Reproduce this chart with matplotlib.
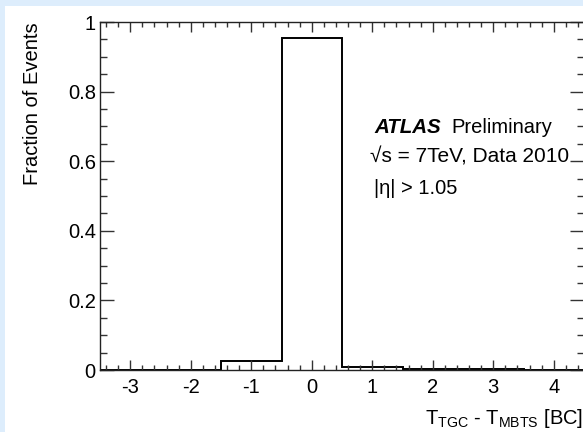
import matplotlib
matplotlib.use('Agg')
import matplotlib.pyplot as plt
from matplotlib.patches import Rectangle
from matplotlib.ticker import MultipleLocator, FormatStrFormatter

plt.rcParams['font.family'] = 'Liberation Sans'
plt.rcParams['mathtext.fontset'] = 'custom'
plt.rcParams['mathtext.rm'] = 'Liberation Sans'
plt.rcParams['mathtext.it'] = 'Liberation Sans:italic'
plt.rcParams['mathtext.bf'] = 'Liberation Sans:bold'
plt.rcParams['axes.unicode_minus'] = False

# TGC - MBTS timing difference, one bin per bunch crossing
bin_edges = [-3.5, -2.5, -1.5, -0.5, 0.5, 1.5, 2.5, 3.5, 4.5]
fractions = [0.0, 0.0, 0.027, 0.953, 0.0095, 0.004, 0.003, 0.0]
x_ticks = [-3, -2, -1, 0, 1, 2, 3, 4]
y_ticks = [0, 0.2, 0.4, 0.6, 0.8, 1.0]

W, H = 583, 432
fig = plt.figure(figsize=(W / 100, H / 100), dpi=100, facecolor='#ddedfc')
# white panel inside the light blue frame
fig.patches.append(Rectangle((5 / W, 0), 1, (H - 6) / H, transform=fig.transFigure,
                             facecolor='white', edgecolor='none', zorder=-10))

ax = fig.add_axes([100 / W, 62 / H, 484 / W, 348 / H])
ax.stairs(fractions, bin_edges, color='black', linewidth=1.4)

ax.set_xlim(bin_edges[0], bin_edges[-1])
ax.set_ylim(0, 1)
ax.set_xticks(x_ticks)
ax.set_yticks(y_ticks)
ax.xaxis.set_minor_locator(MultipleLocator(0.2))
ax.yaxis.set_minor_locator(MultipleLocator(0.05))
ax.yaxis.set_major_formatter(FormatStrFormatter('%g'))

ax.tick_params(which='both', direction='in', top=True, right=True,
               labelsize=14.5, color='#333333', width=1)
ax.tick_params(axis='x', which='major', length=7.2, pad=6)
ax.tick_params(axis='x', which='minor', length=3.6)
ax.tick_params(axis='y', which='major', length=10, pad=3)
ax.tick_params(axis='y', which='minor', length=5)
for sp in ax.spines.values():
    sp.set_linewidth(1)
    sp.set_color('#222222')

ax.set_ylabel('Fraction of Events', fontsize=14.5, loc='top')
ax.yaxis.set_label_coords(-0.12, 1.0)
ax.set_xlabel(r'T$_{\mathrm{TGC}}$ - T$_{\mathrm{MBTS}}$ [BC]', fontsize=14.5, loc='right')
ax.xaxis.set_label_coords(0.998, -0.105)

ax.text(1.03, 0.68, 'ATLAS', fontsize=14.8, fontweight='bold', fontstyle='italic')
ax.text(2.3, 0.68, 'Preliminary', fontsize=14.5)
ax.text(0.97, 0.595, '√s = 7TeV, Data 2010', fontsize=15)
ax.text(1.03, 0.506, '|η| > 1.05', fontsize=14.5)

fig.savefig('out.png', dpi=100, facecolor=fig.get_facecolor())
